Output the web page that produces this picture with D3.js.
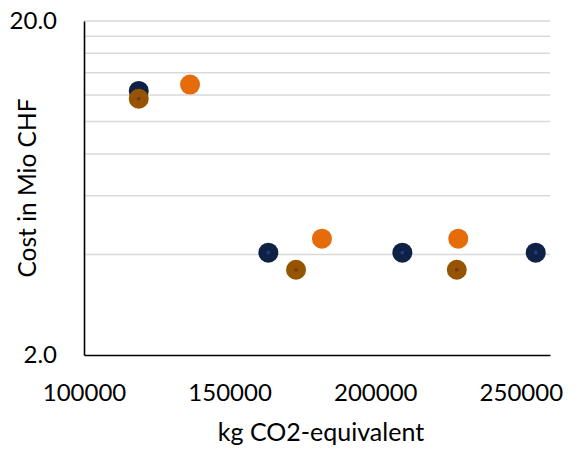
<!DOCTYPE html>
<html>
<head>
<meta charset="utf-8">
<script src="https://cdn.jsdelivr.net/npm/d3@7"></script>
<style>
  body { margin: 0; background: #fff; }
  text { font-family: Lato, "Open Sans", sans-serif; fill: #000; }
</style>
</head>
<body>
<div id="viz"></div>
<script>
(function costChart() {
  const svgWidth = 576;
  const svgHeight = 450;
  const margin = { top: 21, right: 26, bottom: 95, left: 84 };

  const navyColor = '#0f2246';
  const navyDot = '#1d3c8c';
  const orangeColor = '#e46c0a';
  const brownColor = '#965400';
  const brownDot = '#7a2f2f';
  const gridColor = '#d9d9d9';

  // series values: kg CO2-equivalent, cost in Mio CHF
  const navyX = [118800, 163300, 209300, 255100];
  const navyY = [12.35, 4.05, 4.05, 4.05];
  const orangeX = [136400, 181700, 228500];
  const orangeY = [12.9, 4.46, 4.46];
  const brownX = [118800, 172800, 228000];
  const brownY = [11.7, 3.6, 3.6];

  const xTicks = [100000, 150000, 200000, 250000];
  const yTicks = [2, 20];
  const yGrid = [4, 6, 8, 10, 12, 14, 16, 18, 20];

  const width = svgWidth - margin.left - margin.right;
  const height = svgHeight - margin.top - margin.bottom;

  const x = d3.scaleLinear().domain([100000, 260000]).range([0, width]);
  const y = d3.scaleLog().domain([2, 20]).range([height, 0]);

  const svg = d3.select('#viz').append('svg')
    .attr('width', svgWidth)
    .attr('height', svgHeight);

  const g = svg.append('g')
    .attr('transform', `translate(${margin.left}, ${margin.top})`);

  // gridlines
  g.selectAll('line.grid')
    .data(yGrid)
    .enter()
    .append('line')
    .attr('class', 'grid')
    .attr('x1', 0)
    .attr('x2', width)
    .attr('y1', d => y(d))
    .attr('y2', d => y(d))
    .attr('stroke', gridColor)
    .attr('stroke-width', 1.5);

  // axes
  const xAxis = g.append('g')
    .attr('transform', `translate(0, ${height})`)
    .call(d3.axisBottom(x).tickValues(xTicks).tickSize(0).tickPadding(29).tickFormat(d3.format('d')));
  xAxis.select('.domain').attr('stroke', '#000').attr('stroke-width', 1.6);
  xAxis.selectAll('text').style('font-size', '24px').attr('font-family', null);

  const yAxis = g.append('g')
    .call(d3.axisLeft(y).tickValues(yTicks).tickSize(0).tickPadding(27).tickFormat(d3.format('.1f')));
  yAxis.select('.domain').attr('stroke', '#000').attr('stroke-width', 1.6);
  yAxis.selectAll('text').style('font-size', '24px').attr('font-family', null);

  // axis titles
  svg.append('text')
    .attr('x', margin.left + width / 2 + 4)
    .attr('y', 441)
    .attr('text-anchor', 'middle')
    .style('font-size', '25px')
    .text('kg CO2-equivalent');

  svg.append('text')
    .attr('transform', `translate(36, ${margin.top + height / 2}) rotate(-90)`)
    .attr('text-anchor', 'middle')
    .style('font-size', '24.5px')
    .text('Cost in Mio CHF');

  function drawSeries(xs, ys, fill, dot) {
    const pts = xs.map((v, i) => ({ x: v, y: ys[i] }));
    const grp = g.append('g');
    grp.selectAll('circle.marker')
      .data(pts)
      .enter()
      .append('circle')
      .attr('class', 'marker')
      .attr('cx', d => x(d.x))
      .attr('cy', d => y(d.y))
      .attr('r', 10)
      .style('fill', fill);
    if (dot) {
      grp.selectAll('circle.dot')
        .data(pts)
        .enter()
        .append('circle')
        .attr('class', 'dot')
        .attr('cx', d => x(d.x))
        .attr('cy', d => y(d.y))
        .attr('r', 1.8)
        .style('fill', dot);
    }
  }

  drawSeries(navyX, navyY, navyColor, navyDot);
  drawSeries(orangeX, orangeY, orangeColor, null);
  drawSeries(brownX, brownY, brownColor, brownDot);
}());
</script>
</body>
</html>
